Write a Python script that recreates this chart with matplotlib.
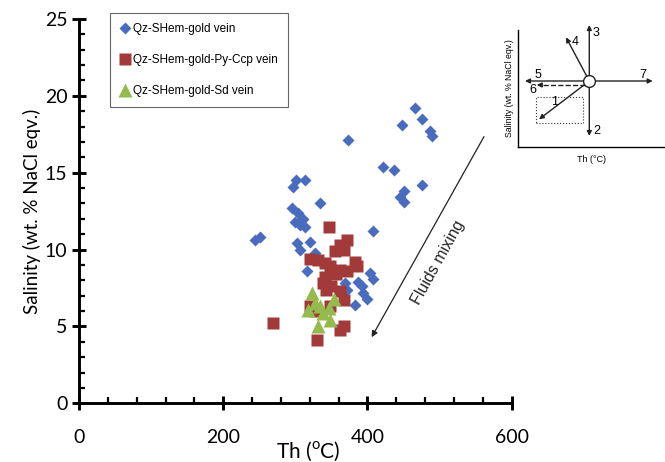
import matplotlib
matplotlib.use('Agg')
import matplotlib.pyplot as plt
from matplotlib.ticker import MultipleLocator
from matplotlib.patches import Rectangle

# Fluid inclusion data: Th (degC) vs salinity (wt.% NaCl eqv.)
gold_th = [466, 475, 448, 487, 490, 373, 422, 437, 475, 450, 445, 451,
           301, 313, 297, 334, 295, 304, 311, 300, 306, 313, 251, 244,
           408, 302, 320, 306, 327, 316, 404, 408, 387, 392, 394, 399,
           371, 383, 369]
gold_sal = [19.2, 18.5, 18.1, 17.7, 17.4, 17.1, 15.4, 15.2, 14.2, 13.8, 13.4, 13.1,
            14.5, 14.5, 14.1, 13.0, 12.7, 12.4, 12.0, 11.8, 11.6, 11.5, 10.8, 10.6,
            11.2, 10.4, 10.5, 10.0, 9.8, 8.6, 8.5, 8.1, 7.9, 7.6, 7.2, 6.8,
            7.4, 6.4, 7.8]

ccp_th = [346, 371, 362, 355, 367, 320, 332, 341, 383, 385, 348, 362, 371, 341,
          357, 339, 350, 362, 367, 320, 327, 348, 362, 367, 269, 330, 343]
ccp_sal = [11.5, 10.6, 10.3, 9.9, 10.0, 9.4, 9.3, 9.1, 9.2, 8.9, 8.9, 8.7, 8.6, 8.2,
           8.4, 7.8, 7.6, 7.3, 6.7, 6.3, 6.0, 6.3, 4.8, 5.0, 5.2, 4.1, 7.4]

sd_th = [323, 353, 327, 334, 318, 346, 339, 348, 332]
sd_sal = [7.2, 6.8, 6.5, 6.3, 6.1, 6.2, 5.9, 5.4, 5.0]

labels = ['Qz-SHem-gold vein', 'Qz-SHem-gold-Py-Ccp vein', 'Qz-SHem-gold-Sd vein']
colors = ['#4a6cbf', '#a33a3a', '#95bb4e']

# fluids mixing arrow (start, end) in data units
mix_start = (561.6, 17.35)
mix_end = (405.8, 4.3)

# schematic inset (in inset pixel units)
ins_center = (71.6, 65.7)
ins_tips = [(21.3, 27.4), (71.6, 10.7), (71.6, 121.7), (48.3, 109.4), (7.3, 65.7), (135.0, 65.7)]
ins_dash = [(67.0, 61.7), (19.0, 61.7)]
ins_box = (18.0, 23.4, 47.6, 26.6)
ins_nums = ['1', '2', '3', '4', '5', '6', '7']
ins_num_pos = [(37.3, 45.0), (79.0, 16.0), (78.3, 113.7), (57.6, 104.4),
               (20.0, 71.4), (15.6, 56.7), (125.0, 71.7)]

fig = plt.figure(figsize=(6.65, 4.62), dpi=100)
ax = fig.add_axes([79 / 665, 1 - 403.3 / 462, 432.7 / 665, 384.3 / 462])

ax.plot(gold_th, gold_sal, 'D', ms=6.6, color=colors[0], mec='none', label=labels[0])
ax.plot(ccp_th, ccp_sal, 's', ms=9, color=colors[1], mec='none', label=labels[1])
ax.plot(sd_th, sd_sal, '^', ms=9.5, color=colors[2], mec='none', label=labels[2])

ax.set_xlim(0, 600)
ax.set_ylim(0, 25)
ax.xaxis.set_major_locator(MultipleLocator(200))
ax.xaxis.set_minor_locator(MultipleLocator(40))
ax.yaxis.set_major_locator(MultipleLocator(5))
ax.yaxis.set_minor_locator(MultipleLocator(1))
for s in ['top', 'right']:
    ax.spines[s].set_visible(False)
for s in ['left', 'bottom']:
    ax.spines[s].set_linewidth(2.1)
ax.tick_params(which='major', direction='inout', length=10.5, width=2.1, labelsize=14)
ax.tick_params(which='minor', direction='in', length=4, width=1.6)
ax.tick_params(axis='x', which='major', pad=13)
ax.tick_params(axis='y', which='major', pad=3)
for t in ax.get_xticklabels() + ax.get_yticklabels():
    t.set_family('Lato')

ax.set_xlabel('Th ($^\\mathregular{o}$C)', fontsize=15, family='Lato')
ax.xaxis.label.set_va('center')
ax.xaxis.set_label_coords(0.53, -0.124)
ax.set_ylabel('Salinity (wt. % NaCl eqv.)', fontsize=13.5, family='Lato')
ax.yaxis.label.set_va('center')
ax.yaxis.set_label_coords(-0.108, 0.5)

ax.annotate('', xy=mix_end, xytext=mix_start,
            arrowprops=dict(arrowstyle='-|>', lw=0.9, color='#222222',
                            mutation_scale=9, shrinkA=0, shrinkB=0))
ax.text(497.8, 9.13, 'Fluids mixing', rotation=61, rotation_mode='anchor',
        ha='center', va='center', fontsize=11.5, family='Liberation Sans', color='#222222')

leg = ax.legend(loc='upper left', bbox_to_anchor=(110 / 665, 1 - 13 / 462),
                bbox_transform=fig.transFigure, borderaxespad=0, fancybox=False,
                edgecolor='#404040', prop={'family': 'Liberation Sans', 'size': 8.5},
                handlelength=0.8, handletextpad=0.3, labelspacing=1.6, borderpad=0.85)
leg.get_frame().set_linewidth(0.8)

# inset schematic
ins = fig.add_axes([517.7 / 665, 1 - 146.7 / 462, 147.3 / 665, 116.7 / 462])
ins.set_xlim(0, 147.3)
ins.set_ylim(0, 116.7)
ins.patch.set_alpha(0)
for s in ['top', 'right']:
    ins.spines[s].set_visible(False)
for s in ['left', 'bottom']:
    ins.spines[s].set_linewidth(1.0)
ins.set_xticks([])
ins.set_yticks([])

ins.add_patch(Rectangle(ins_box[:2], ins_box[2], ins_box[3], fill=False,
                        ls=':', lw=0.8, ec='#333333'))
for tip in ins_tips:
    ins.annotate('', xy=tip, xytext=ins_center, annotation_clip=False,
                 arrowprops=dict(arrowstyle='-|>', lw=1.0, color='#222222',
                                 mutation_scale=7, shrinkA=0, shrinkB=0))
ins.plot([ins_dash[0][0], ins_dash[1][0] + 4], [ins_dash[0][1], ins_dash[1][1]],
         ls='--', lw=1.0, color='#222222')
ins.annotate('', xy=ins_dash[1], xytext=(ins_dash[1][0] + 5, ins_dash[1][1]),
             arrowprops=dict(arrowstyle='-|>', lw=1.0, color='#222222',
                             mutation_scale=7, shrinkA=0, shrinkB=0))
ins.plot(*ins_center, 'o', ms=8.5, mfc='white', mec='#222222', mew=1.0, zorder=5, clip_on=False)
for n, p in zip(ins_nums, ins_num_pos):
    ins.text(p[0], p[1], n, fontsize=9, family='Liberation Sans', ha='center', va='center')
ins.set_xlabel('Th (°C)', fontsize=6.5, family='Liberation Sans', labelpad=6)
ins.set_ylabel('Salinity (wt. % NaCl eqv.)', fontsize=6.3, family='Liberation Sans', labelpad=3)

fig.savefig('out.png', dpi=100)
